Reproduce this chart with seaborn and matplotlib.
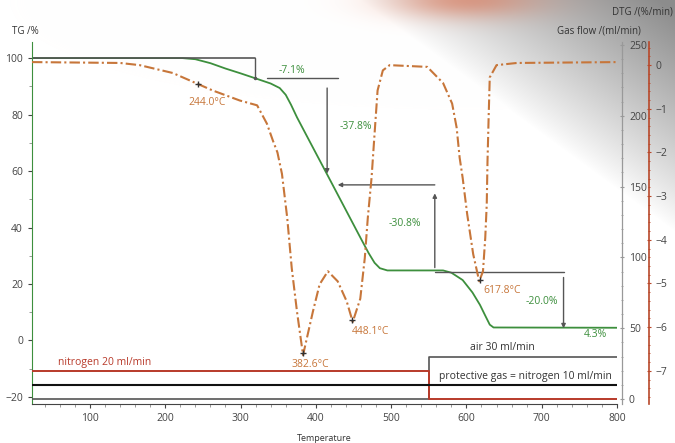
import numpy as np
import pandas as pd
import seaborn as sns
import matplotlib.pyplot as plt
from matplotlib.ticker import MultipleLocator

# TG curve (mass %)
tg_temp = [23, 200, 223, 240, 260, 280, 300, 319, 340, 352, 360, 367, 375, 392, 415, 430, 445, 460,
           470, 478, 485, 495, 569, 580, 595, 608, 618, 625, 631, 636, 800]
tg_mass = [100, 100, 100, 99.6, 98.2, 96.3, 94.6, 92.9, 91.0, 89.4, 87.0, 83.5, 79.0, 70.4, 58.8, 51.2, 43.6, 36.0,
           31.0, 27.5, 25.6, 24.8, 24.8, 24.0, 21.4, 17.0, 12.6, 8.8, 5.6, 4.6, 4.5]

# DTG curve (%/min)
dtg_temp = [23, 140, 166, 210, 263, 299, 322, 335, 343, 349, 355, 362, 368, 375, 383,
            396, 405, 416, 429, 441, 449, 459, 465, 469, 474, 478, 482, 489, 498,
            548, 569, 581, 587, 591, 595, 601, 609, 617, 622, 625, 627, 628, 629.5, 631, 640, 667, 800]
dtg_rate = [0.07, 0.05, 0.0, -0.18, -0.58, -0.81, -0.92, -1.34, -1.73, -2.0, -2.49, -3.5, -4.65, -5.65, -6.64,
            -5.65, -5.02, -4.72, -4.95, -5.41, -5.88, -5.35, -4.42, -3.5, -2.58, -1.57, -0.58, -0.12, 0.0,
            -0.04, -0.41, -0.88, -1.43, -2.12, -2.58, -3.41, -4.33, -4.95, -4.72, -3.96, -3.18, -2.2, -1.2, -0.28, 0.0, 0.05, 0.07]

# gas flow (ml/min)
gas_temp = [23, 550, 550, 800]
n2_flow = [20, 20, 0, 0]
air_flow = [0, 0, 30, 30]
prot_temp = [23, 800]
prot_flow = [10, 10]

# mass loss steps
step_temp = [319, 415, 558, 729]
step_loss = [-7.1, -37.8, -30.8, -20.0]
residue = 4.3
peak_temp = [244.0, 382.6, 448.1, 617.8]

GREEN = "#3d8f3d"
ORANGE = "#c7763a"
RED = "#b83a2a"
GREY = "#555555"

sns.set_style("ticks")
plt.rcParams["font.family"] = ["Open Sans", "DejaVu Sans"]

fig = plt.figure(figsize=(6.75, 4.43), dpi=100)

# faded photo in the background (top right)
H, W = 443, 675
yy, xx = np.mgrid[0:H, 0:W].astype(float)
s = np.clip((xx - 360) / 300 - yy / 220, 0, 1)
g = 1 - 0.45 * s ** 0.9
bg = np.dstack([g, g, g])
blob = 0.6 * np.exp(-(((xx - 465) / 75) ** 2 + (yy / 18) ** 2))
orange = np.array([0.86, 0.45, 0.32])
bg = bg * (1 - blob[..., None]) + orange * blob[..., None]
fig.figimage(bg, xo=0, yo=0, zorder=-10)

ax = fig.add_axes([32 / 675, 39 / 443, 585 / 675, 362 / 443])
ax2 = ax.twinx()
ax3 = ax.twinx()
for a in (ax, ax2, ax3):
    a.patch.set_visible(False)
    a.spines["top"].set_visible(False)

ax.set_xlim(23, 800)
ax.set_ylim(-22.5, 105.7)
ax2.set_ylim(-3.5, 252)
ax3.set_ylim(-7.76, 0.53)

# gas flow lines
sns.lineplot(x=gas_temp, y=air_flow, ax=ax2, color="#555555", lw=1.2, sort=False, estimator=None)
sns.lineplot(x=gas_temp, y=n2_flow, ax=ax2, color=RED, lw=1.4, sort=False, estimator=None)
sns.lineplot(x=prot_temp, y=prot_flow, ax=ax2, color="#111111", lw=1.5, sort=False, estimator=None)

# DTG
sns.lineplot(x=dtg_temp, y=dtg_rate, ax=ax3, color=ORANGE, lw=1.5, sort=False, estimator=None,
             linestyle=(0, (5, 1.5, 1, 1.5)))
peak_rate = np.interp(peak_temp, dtg_temp, dtg_rate)
ax3.plot(peak_temp, peak_rate, "+", color="#333333", ms=5, mew=1)

# TG
sns.lineplot(x=tg_temp, y=tg_mass, ax=ax, color=GREEN, lw=1.3, sort=False, estimator=None)

# step annotations
levels = 100 + np.cumsum(step_loss)
arw = dict(arrowstyle="-|>", color=GREY, lw=1, mutation_scale=6, shrinkA=0, shrinkB=0)
ax.plot([23, step_temp[0]], [100, 100], color=GREY, lw=1.2)
ax.plot([step_temp[0], step_temp[0]], [100, levels[0]], color=GREY, lw=1, marker=".", ms=3, markevery=[1])
ax.plot([step_temp[0] + 16, step_temp[0] + 111], [levels[0]] * 2, color=GREY, lw=1)
ax.annotate("", xy=(step_temp[1], levels[1] + 4), xytext=(step_temp[1], levels[0] - 3.5), arrowprops=arw)
ax.annotate("", xy=(step_temp[1] + 14, levels[1]), xytext=(step_temp[2], levels[1]), arrowprops=arw)
ax.annotate("", xy=(step_temp[2], levels[1] - 3), xytext=(step_temp[2], levels[2] + 1.5), arrowprops=arw)
ax.plot([step_temp[2], step_temp[3]], [levels[2]] * 2, color=GREY, lw=1)
ax.annotate("", xy=(step_temp[3], levels[3]), xytext=(step_temp[3], levels[2] - 2), arrowprops=arw)

fs = 7.5
ax.text(368, 95.7, f"{step_loss[0]:.1f}%", color=GREEN, fontsize=fs, ha="center", va="center")
ax.text(453, 75.6, f"{step_loss[1]:.1f}%", color=GREEN, fontsize=fs, ha="center", va="center")
ax.text(518, 41.6, f"{step_loss[2]:.1f}%", color=GREEN, fontsize=fs, ha="center", va="center")
ax.text(700, 13.8, f"{step_loss[3]:.1f}%", color=GREEN, fontsize=fs, ha="center", va="center")
ax.text(772, 2.0, f"{residue:.1f}%", color=GREEN, fontsize=fs, ha="center", va="center")

ax3.text(255, -0.85, f"{peak_temp[0]:.1f}°C", color=ORANGE, fontsize=fs, ha="center", va="center")
ax3.text(392, -6.85, f"{peak_temp[1]:.1f}°C", color=ORANGE, fontsize=fs, ha="center", va="center")
ax3.text(473, -6.1, f"{peak_temp[2]:.1f}°C", color=ORANGE, fontsize=fs, ha="center", va="center")
ax3.text(648, -5.15, f"{peak_temp[3]:.1f}°C", color=ORANGE, fontsize=fs, ha="center", va="center")

ax2.text(57, 26, "nitrogen 20 ml/min", color=RED, fontsize=fs, ha="left", va="center")
ax2.text(648, 36.7, "air 30 ml/min", color="#333333", fontsize=fs, ha="center", va="center")
ax2.text(678, 16, "protective gas = nitrogen 10 ml/min", color="#333333", fontsize=fs, ha="center", va="center")

# axes styling
ax.spines["right"].set_visible(False)
ax.spines["left"].set_color(GREEN)
ax.spines["bottom"].set_color("#444444")
ax.set_xticks(range(100, 801, 100))
ax.set_yticks(range(-20, 101, 20))
ax.xaxis.set_minor_locator(MultipleLocator(20))
ax.yaxis.set_minor_locator(MultipleLocator(10))
ax.tick_params(labelsize=fs, colors="#444444", length=3, width=0.8)
ax.tick_params(which="minor", length=2, width=0.6, colors="#888888")
ax.set_xlabel("Temperature", fontsize=6.5, color="#333333", labelpad=7)
ax.set_ylabel("")

for a, col, off, step, minor in ((ax2, "#999999", 3.6, 50, 10), (ax3, "#b8482a", 23, 1, 0.2)):
    a.spines["left"].set_visible(False)
    a.spines["bottom"].set_visible(False)
    a.spines["right"].set_position(("outward", off))
    a.spines["right"].set_color(col)
    a.spines["right"].set_linewidth(1.2 if a is ax3 else 0.9)
    a.yaxis.set_major_locator(MultipleLocator(step))
    a.yaxis.set_minor_locator(MultipleLocator(minor))
    a.tick_params(axis="y", labelsize=fs, labelcolor="#444444", color=col, length=3, direction="inout")
    a.tick_params(axis="y", which="minor", length=2, color=col, direction="inout")
    a.set_ylabel("")
ax2.set_yticks(range(0, 251, 50))
ax3.set_yticks(range(-7, 1))

fig.text(12 / 675, 1 - 32 / 443, "TG /%", fontsize=7, color="#333333", va="center")
fig.text(641 / 675, 1 - 31 / 443, "Gas flow /(ml/min)", fontsize=7, color="#333333", ha="right", va="center")
fig.text(673 / 675, 1 - 12 / 443, "DTG /(%/min)", fontsize=7, color="#333333", ha="right", va="center")

fig.savefig("out.png", dpi=100)
